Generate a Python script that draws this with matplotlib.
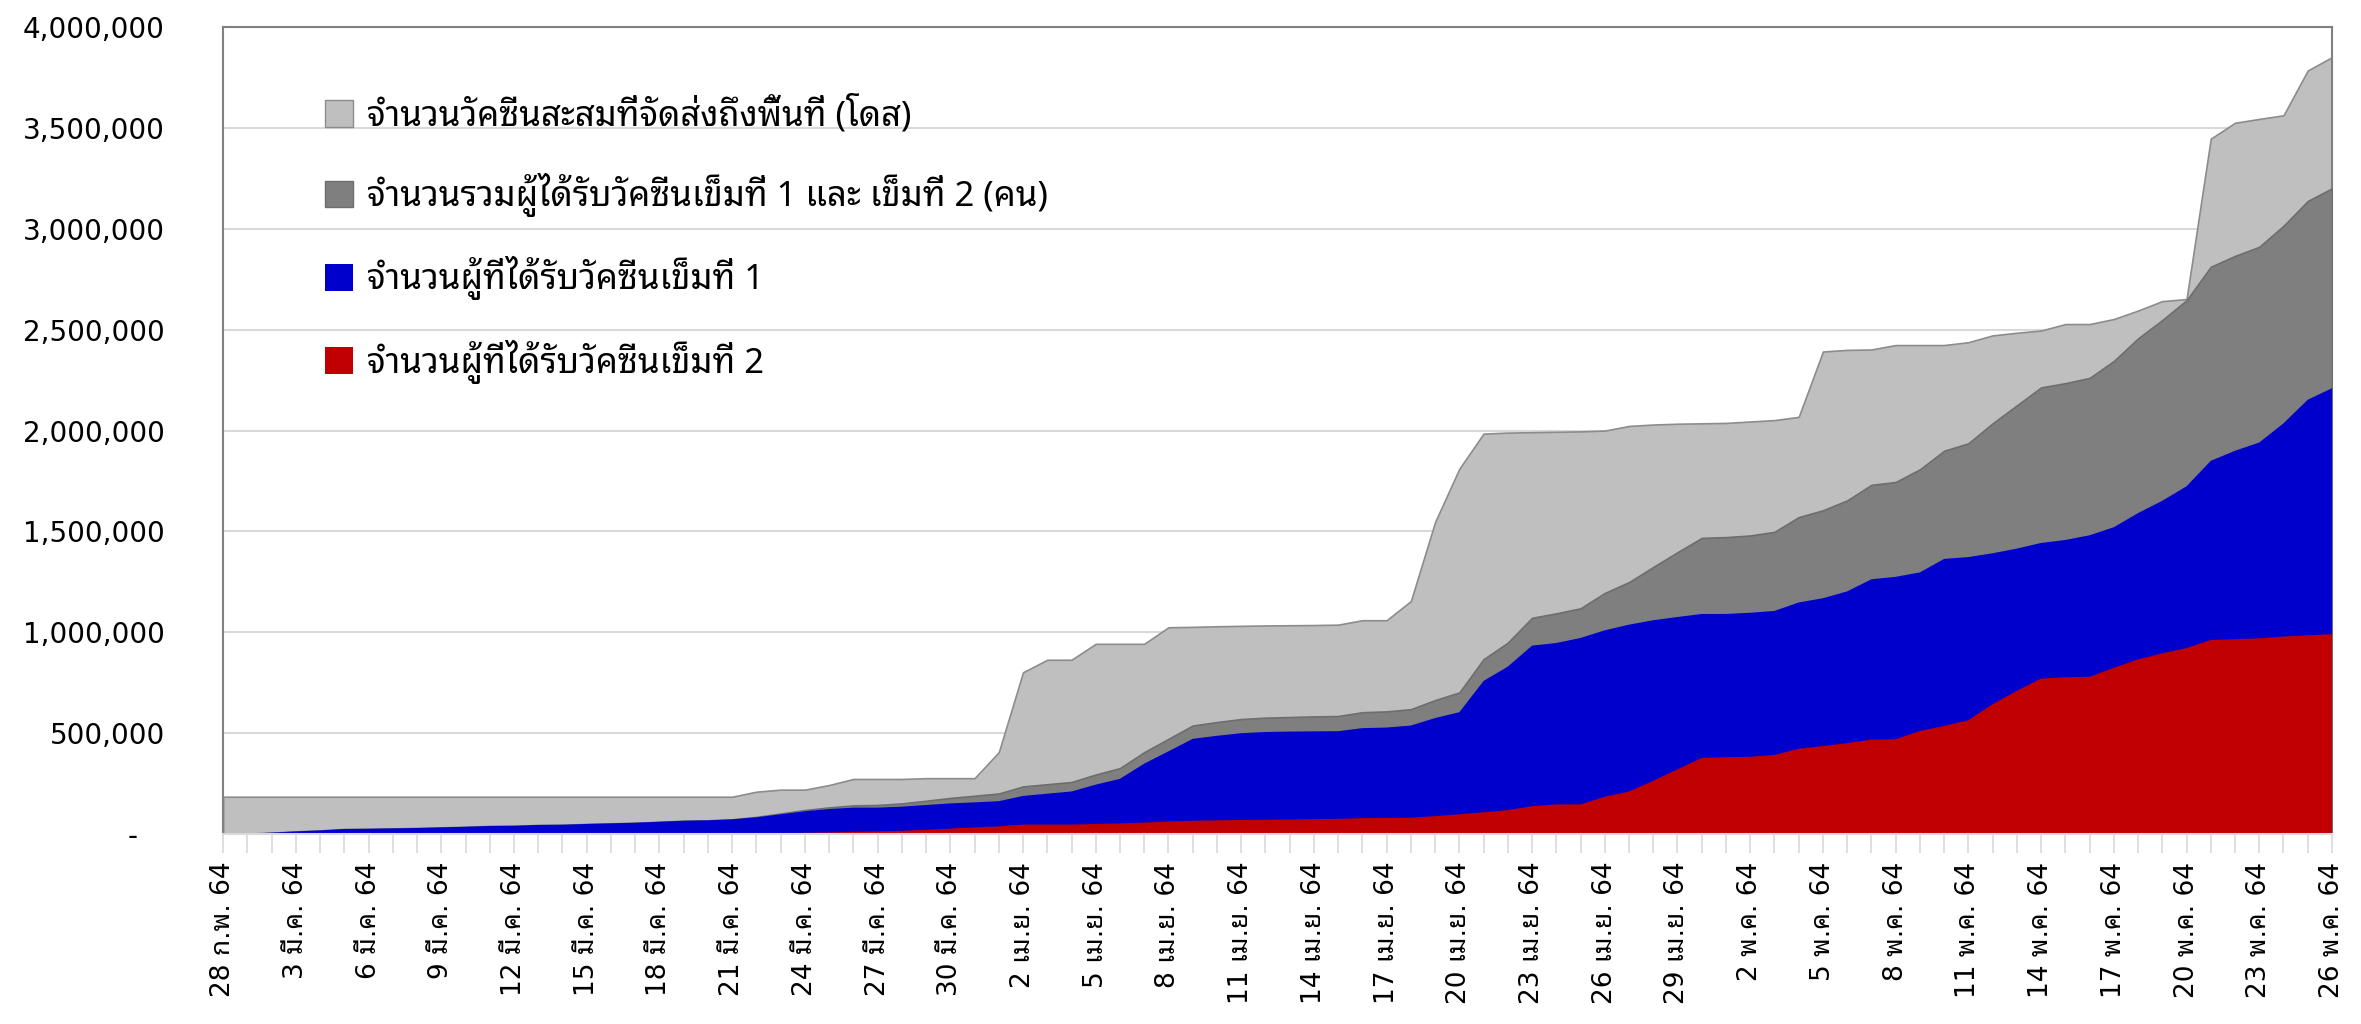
import matplotlib
matplotlib.use('Agg')
import matplotlib.pyplot as plt
from matplotlib.patches import Patch
from matplotlib.ticker import FuncFormatter
import numpy as np
import pandas as pd

# daily cumulative figures, 28 Feb 2021 (28 ก.พ. 64) to 26 May 2021
dates = pd.date_range('2021-02-28', '2021-05-26', freq='D')

delivered = [185000] * 22 + [
    210000, 220000, 220000, 243000, 273000, 273000, 273000, 277000,
    277000, 277000, 406000, 802000, 864000, 864000, 943000, 943000, 943000, 1025000,
    1027000, 1030000, 1032000, 1034000, 1035000, 1036000, 1038000, 1060000, 1060000, 1155000,
    1547000, 1811000, 1985000, 1990000, 1992000, 1994000, 1996000, 2000000, 2023000, 2030000,
    2034000, 2036000, 2038000, 2045000, 2052000, 2068000, 2392000, 2400000, 2402000, 2424000,
    2424000, 2424000, 2438000, 2472000, 2485000, 2496000, 2528000, 2528000, 2553000, 2595000,
    2642000, 2652000, 3447000, 3526000, 3545000, 3563000, 3785000, 3851000]

dose1 = [
    0, 2000, 7000, 13000, 18000, 25000, 26000, 28000, 30000, 33000,
    36000, 40000, 41000, 45000, 46000, 50000, 53000, 56000, 61000, 66000,
    68000, 73000, 83000, 98000, 113000, 124000, 131000, 131000, 136000, 144000,
    152000, 157000, 163000, 189000, 200000, 211000, 245000, 274000, 349000, 410000,
    472000, 487000, 500000, 506000, 508000, 509000, 510000, 525000, 528000, 538000,
    575000, 604000, 759000, 830000, 934000, 947000, 972000, 1010000, 1038000, 1060000,
    1076000, 1091000, 1091000, 1097000, 1106000, 1148000, 1169000, 1203000, 1263000, 1275000,
    1297000, 1364000, 1373000, 1392000, 1415000, 1443000, 1458000, 1481000, 1521000, 1591000,
    1652000, 1724000, 1850000, 1900000, 1941000, 2036000, 2153000, 2210000]

dose2 = [0] * 22 + [
    2000, 4000, 6000, 8000, 11000, 13000, 16000, 21000,
    27000, 33000, 38000, 47000, 47000, 47000, 50000, 53000, 57000, 62000,
    66000, 68000, 70000, 71000, 72000, 74000, 75000, 79000, 80000, 81000,
    89000, 98000, 108000, 119000, 138000, 147000, 147000, 185000, 211000, 264000,
    321000, 377000, 381000, 383000, 392000, 423000, 436000, 451000, 468000, 470000,
    511000, 536000, 564000, 644000, 710000, 771000, 777000, 780000, 824000, 866000,
    896000, 922000, 962000, 966000, 970000, 979000, 985000, 991000]

total = [
    0, 2000, 7000, 13000, 18000, 25000, 26000, 28000, 30000, 33000,
    36000, 40000, 41000, 45000, 46000, 50000, 53000, 56000, 61000, 66000,
    68000, 73000, 85000, 102000, 119000, 132000, 142000, 144000, 152000, 165000,
    179000, 190000, 201000, 236000, 247000, 258000, 295000, 327000, 406000, 472000,
    538000, 555000, 570000, 577000, 580000, 583000, 585000, 604000, 608000, 619000,
    664000, 702000, 867000, 949000, 1072000, 1094000, 1119000, 1195000, 1249000, 1324000,
    1397000, 1468000, 1472000, 1480000, 1498000, 1571000, 1605000, 1654000, 1731000, 1745000,
    1808000, 1900000, 1937000, 2036000, 2125000, 2214000, 2235000, 2261000, 2345000, 2457000,
    2548000, 2646000, 2812000, 2866000, 2911000, 3015000, 3138000, 3201000]

labels = ['จำนวนวัคซีนสะสมที่จัดส่งถึงพื้นที่ (โดส)',
          'จำนวนรวมผู้ได้รับวัคซีนเข็มที่ 1 และ เข็มที่ 2 (คน)',
          'จำนวนผู้ที่ได้รับวัคซีนเข็มที่ 1',
          'จำนวนผู้ที่ได้รับวัคซีนเข็มที่ 2']
thai_months = {2: 'ก.พ.', 3: 'มี.ค.', 4: 'เม.ย.', 5: 'พ.ค.'}

thai_font = ['Noto Sans Thai Looped', 'Loma', 'DejaVu Sans']
tick_font = ['DejaVu Sans', 'Noto Sans Thai Looped', 'Loma']

x = np.arange(len(dates))

fig = plt.figure(figsize=(23.61, 10.24), dpi=100)
ax = fig.add_axes([0.0945, 0.1855, 0.8932, 0.788])

ax.fill_between(x, 0, delivered, facecolor='#BFBFBF', edgecolor='#8C8C8C', lw=1.2, zorder=2)
ax.fill_between(x, 0, total, facecolor='#7F7F7F', edgecolor='#6E6E6E', lw=1.2, zorder=3)
ax.fill_between(x, 0, dose1, facecolor='#0000CC', edgecolor='none', zorder=4)
ax.fill_between(x, 0, dose2, facecolor='#C00000', edgecolor='none', zorder=5)

ax.set_xlim(0, len(dates) - 1)
ax.set_ylim(0, 4000000)
ax.set_yticks(np.arange(0, 4000001, 500000))
ax.yaxis.set_major_formatter(FuncFormatter(lambda v, p: '-   ' if v == 0 else f'{v:,.0f}'))
ax.grid(axis='y', color='#D9D9D9', lw=1.5, zorder=0)
ax.set_axisbelow(True)

ax.set_xticks(x[::3])
ax.set_xticks(x, minor=True)
ax.set_xticklabels([f'{d.day} {thai_months[d.month]} 64' for d in dates[::3]],
                   rotation=90, family=tick_font, fontsize=19)
ax.tick_params(axis='x', which='both', length=14, width=1.2, color='#D9D9D9', pad=6)
ax.tick_params(axis='y', length=0, pad=42, labelsize=20)

for s in ['left', 'top', 'right']:
    ax.spines[s].set_color('#808080')
    ax.spines[s].set_linewidth(1.5)
ax.spines['bottom'].set_color('#D9D9D9')
ax.spines['bottom'].set_linewidth(1.5)
ax.spines['bottom'].set_zorder(6)

handles = [Patch(facecolor='#BFBFBF', edgecolor='#8C8C8C'),
           Patch(facecolor='#7F7F7F', edgecolor='#6E6E6E'),
           Patch(facecolor='#0000CC', edgecolor='none'),
           Patch(facecolor='#C00000', edgecolor='none')]
ax.legend(handles, labels, loc='upper left', bbox_to_anchor=(0.0416, 0.933), frameon=False,
          prop={'family': thai_font, 'size': 25}, handlelength=0.8, handleheight=0.8,
          handletextpad=0.43, labelspacing=1.13, borderaxespad=0)

fig.savefig('out.png', dpi=100)
